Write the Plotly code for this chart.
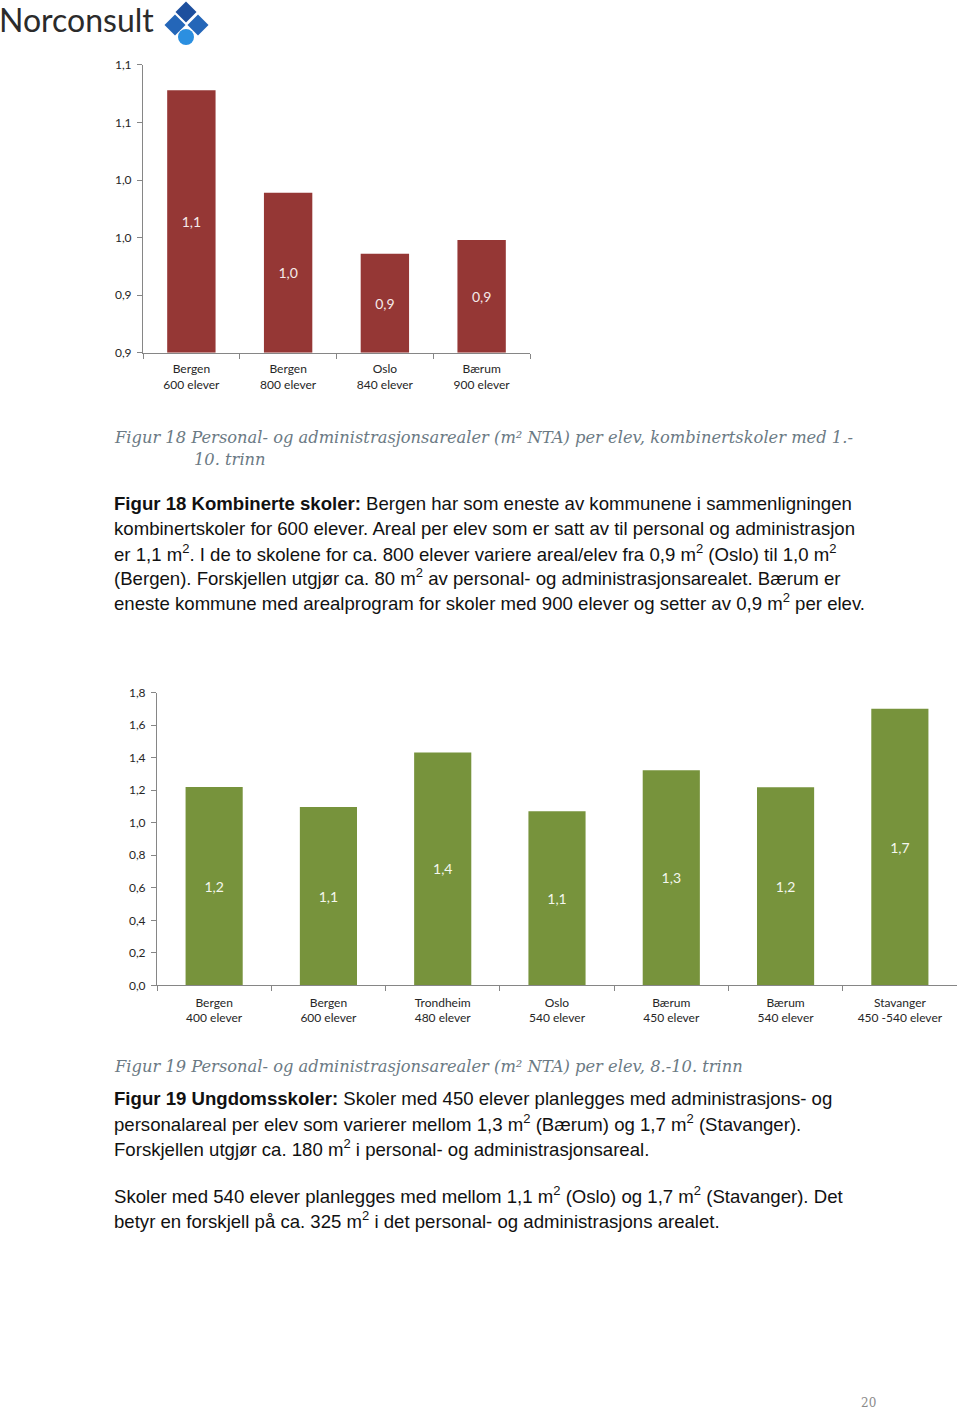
import plotly.graph_objects as go

W, H = 960, 1412

# ---------------- data ----------------
cats1 = ["Bergen<br>600 elever", "Bergen<br>800 elever", "Oslo<br>840 elever", "Bærum<br>900 elever"]
vals1 = [1.078, 0.989, 0.936, 0.948]
y1_ticks = [0.85, 0.90, 0.95, 1.00, 1.05, 1.10]
y1_ticktext = ["0,9", "0,9", "1,0", "1,0", "1,1", "1,1"]

cats2 = ["Bergen<br>400 elever", "Bergen<br>600 elever", "Trondheim<br>480 elever", "Oslo<br>540 elever",
         "Bærum<br>450 elever", "Bærum<br>540 elever", "Stavanger<br>450 -540 elever"]
vals2 = [1.22, 1.097, 1.431, 1.070, 1.322, 1.218, 1.700]
y2_ticks = [0.0, 0.2, 0.4, 0.6, 0.8, 1.0, 1.2, 1.4, 1.6, 1.8]

caption1 = ["Figur 18 Personal- og administrasjonsarealer (m² NTA) per elev, kombinertskoler med 1.-",
            "10. trinn"]
body1 = ["<b>Figur 18 Kombinerte skoler:</b> Bergen har som eneste av kommunene i sammenligningen",
         "kombinertskoler for 600 elever. Areal per elev som er satt av til personal og administrasjon",
         "er 1,1 m<sup>2</sup>. I de to skolene for ca. 800 elever variere areal/elev fra 0,9 m<sup>2</sup> (Oslo) til 1,0 m<sup>2</sup>",
         "(Bergen). Forskjellen utgjør ca. 80 m<sup>2</sup> av personal- og administrasjonsarealet. Bærum er",
         "eneste kommune med arealprogram for skoler med 900 elever og setter av 0,9 m<sup>2</sup> per elev."]
caption2 = ["Figur 19 Personal- og administrasjonsarealer (m² NTA) per elev, 8.-10. trinn"]
body2 = ["<b>Figur 19 Ungdomsskoler:</b> Skoler med 450 elever planlegges med administrasjons- og",
         "personalareal per elev som varierer mellom 1,3 m<sup>2</sup> (Bærum) og 1,7 m<sup>2</sup> (Stavanger).",
         "Forskjellen utgjør ca. 180 m<sup>2</sup> i personal- og administrasjonsareal.",
         "Skoler med 540 elever planlegges med mellom 1,1 m<sup>2</sup> (Oslo) og 1,7 m<sup>2</sup> (Stavanger). Det",
         "betyr en forskjell på ca. 325 m<sup>2</sup> i det personal- og administrasjons arealet."]
page_number = "20"
logo_text = "Norconsult"

# ---------------- helpers ----------------
def px(x):
    return x / W

def py(y):
    # page-pixel (measured) -> paper fraction, with a small vertical calibration
    yt = 100 + (y - 106) / 0.99
    return 1 - yt / H

RED = "#953735"
GREEN = "#77933c"
AXIS = "#868686"
TXT = "#262626"
CHART_FONT = "Lato"

fig = go.Figure()

AXIS1_MIN = y1_ticks[0]
fig.add_trace(go.Bar(
    x=cats1, y=[v - AXIS1_MIN for v in vals1], base=AXIS1_MIN,
    customdata=vals1, texttemplate="%{customdata:.1f}",
    textposition="inside", insidetextanchor="middle", textangle=0,
    textfont=dict(family=CHART_FONT, size=14, color="#f5eaea"),
    marker=dict(color=RED, line=dict(width=0)),
    xaxis="x", yaxis="y", hoverinfo="skip", showlegend=False,
))

fig.add_trace(go.Bar(
    x=cats2, y=vals2, texttemplate="%{y:.1f}",
    textposition="inside", insidetextanchor="middle", textangle=0,
    textfont=dict(family=CHART_FONT, size=14, color="#f4f7ee"),
    marker=dict(color=GREEN, line=dict(width=0)),
    xaxis="x2", yaxis="y2", hoverinfo="skip", showlegend=False,
))

axis_common = dict(showgrid=False, zeroline=False, showline=True, linecolor=AXIS, linewidth=1,
                   ticks="outside", tickcolor=AXIS, ticklen=5, tickwidth=1,
                   tickfont=dict(family=CHART_FONT, size=12, color=TXT), fixedrange=True)

fig.update_layout(
    width=W, height=H,
    margin=dict(l=0, r=0, t=0, b=0),
    paper_bgcolor="white", plot_bgcolor="white",
    separators=",.",
    bargap=0.5,
    xaxis=dict(domain=[px(143), px(530)], anchor="y", type="category",
               tickson="boundaries", ticklabelstandoff=5, **axis_common),
    yaxis=dict(domain=[py(352), py(64)], anchor="x", range=[y1_ticks[0], y1_ticks[-1]],
               tickmode="array", tickvals=y1_ticks, ticktext=y1_ticktext,
               ticklabelstandoff=3, **axis_common),
    xaxis2=dict(domain=[px(157), px(957)], anchor="y2", type="category",
                tickson="boundaries", ticklabelstandoff=6, **axis_common),
    yaxis2=dict(domain=[py(985), py(692)], anchor="x2", range=[0, 1.8],
                tickmode="array", tickvals=y2_ticks, tickformat=".1f",
                ticklabelstandoff=3, **axis_common),
)

ann = []
CAP_FONT = dict(family="DejaVu Serif", size=16.3, color="#6b7a84")
BODY_FONT = dict(family="Liberation Sans", size=18.6, color="#111111")

def add_line(text, x, y, font, italic=False):
    t = f"<i>{text}</i>" if italic else text
    ann.append(dict(text=t, x=px(x), y=py(y), xref="paper", yref="paper",
                    xanchor="left", yanchor="middle", showarrow=False, font=font))

add_line(caption1[0], 112, 437, CAP_FONT, italic=True)
add_line(caption1[1], 192, 459, CAP_FONT, italic=True)
for i, line in enumerate(body1):
    add_line(line, 112, 503 + i * 24.6, BODY_FONT)

add_line(caption2[0], 112, 1066, CAP_FONT, italic=True)
ys2 = [1098, 1123, 1148, 1195, 1220]
for line, yy in zip(body2, ys2):
    add_line(line, 112, yy, BODY_FONT)

ann.append(dict(text=page_number, x=px(868), y=py(1403), xref="paper", yref="paper",
                xanchor="center", yanchor="middle", showarrow=False,
                font=dict(family="DejaVu Serif", size=12, color="#8a8a8a")))
ann.append(dict(text=logo_text, x=px(-3), y=py(19), xref="paper", yref="paper",
                xanchor="left", yanchor="middle", showarrow=False,
                font=dict(family="Lato", size=32, color="#2b2b2b")))

fig.update_layout(annotations=ann)

# logo diamonds and circle
def diamond(cx, cy, r, color):
    path = (f"M {px(cx)} {py(cy - r)} L {px(cx + r)} {py(cy)} "
            f"L {px(cx)} {py(cy + r)} L {px(cx - r)} {py(cy)} Z")
    return dict(type="path", xref="paper", yref="paper", path=path,
                fillcolor=color, line=dict(width=0), layer="above")

shapes = [
    diamond(186, 11, 10.5, "#1d4f9e"),
    diamond(175, 24, 10.5, "#2466b8"),
    diamond(198, 24, 10.5, "#2466b8"),
    dict(type="circle", xref="paper", yref="paper",
         x0=px(178), x1=px(194), y0=py(44), y1=py(28),
         fillcolor="#2b8fe0", line=dict(width=0), layer="above"),
]
fig.update_layout(shapes=shapes)

fig.write_html("out.html")
